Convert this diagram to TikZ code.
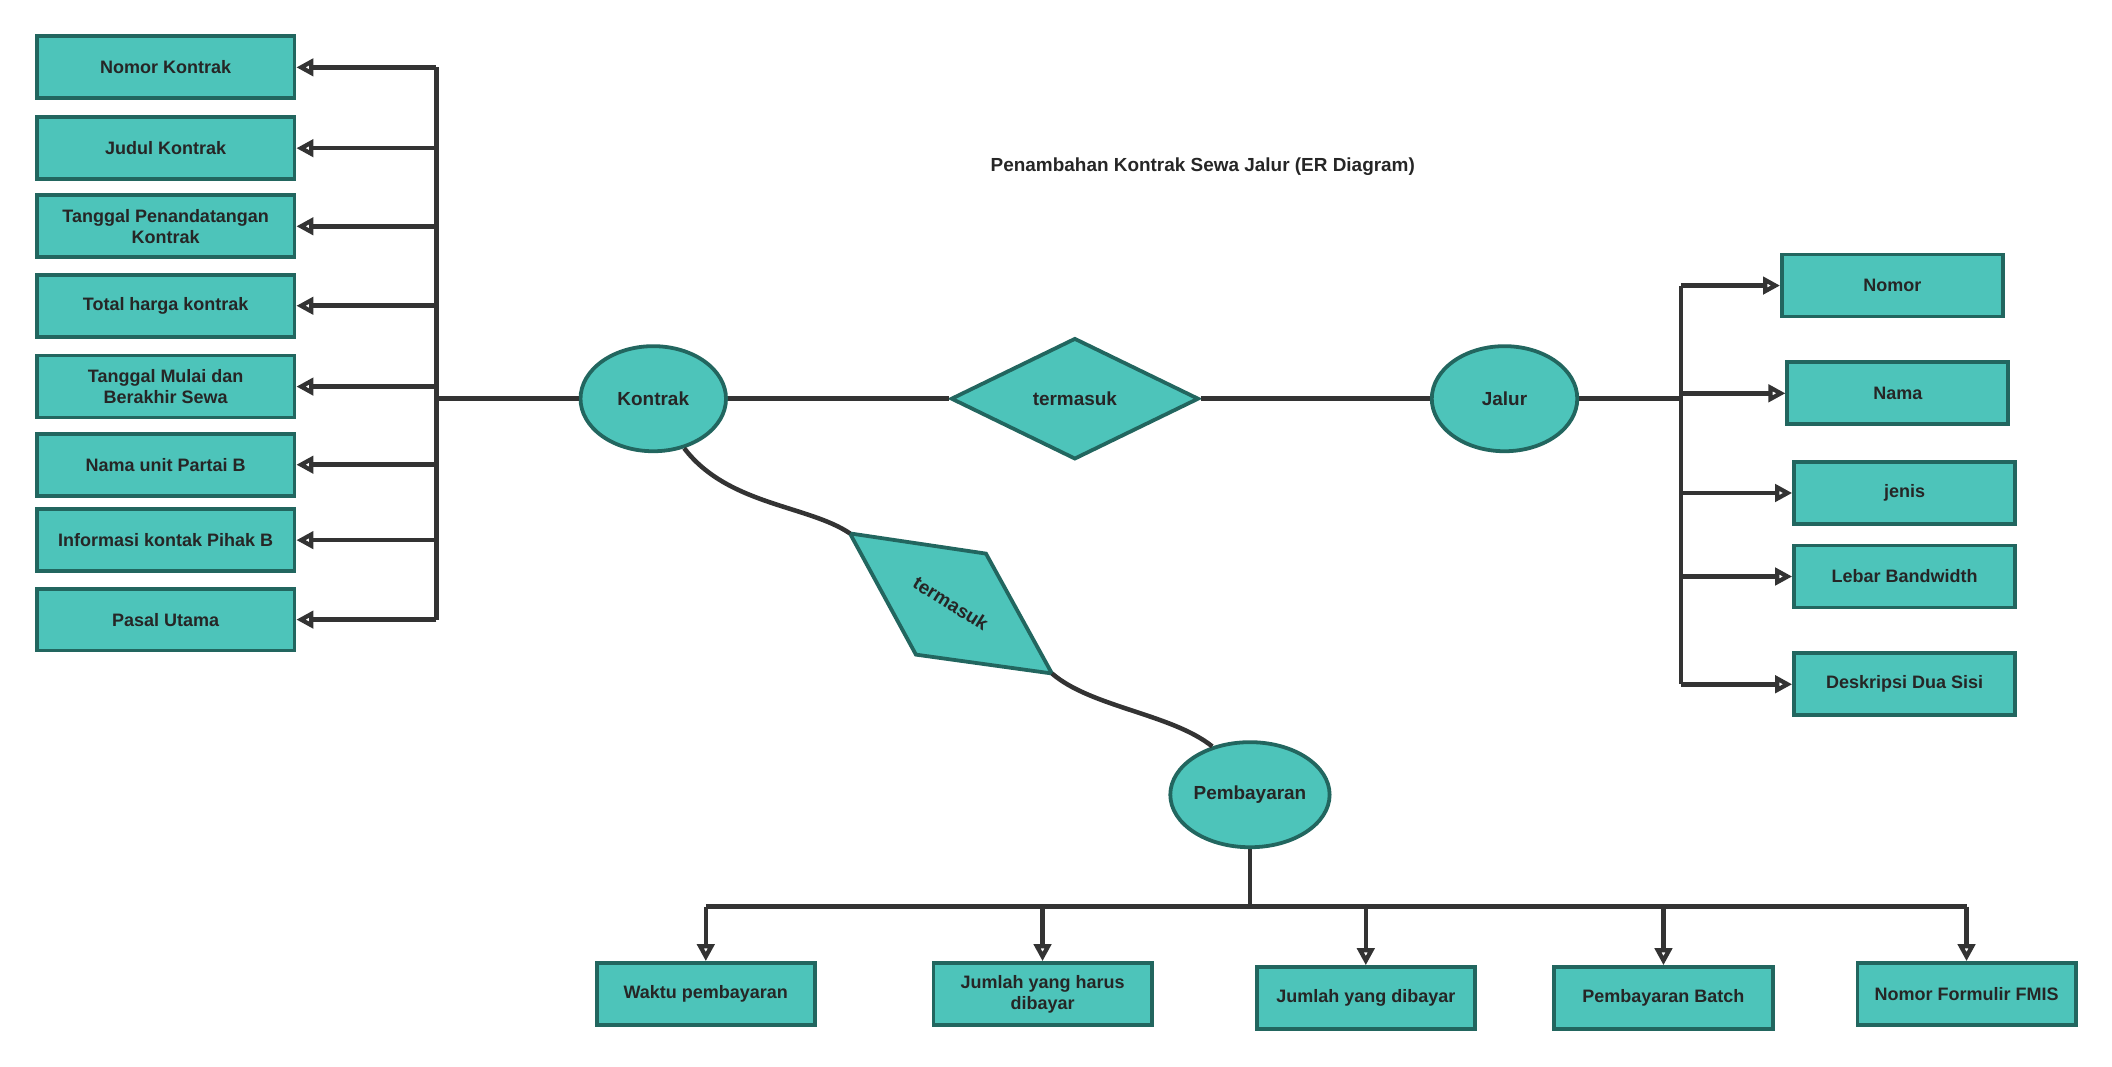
\documentclass[tikz,border=0pt]{standalone}
\usepackage{fontspec}
\setmainfont{Liberation Sans}
\usetikzlibrary{arrows.meta,shapes.geometric}
\definecolor{entityfill}{HTML}{4DC4BA}
\definecolor{entityline}{HTML}{22665F}
\definecolor{wire}{HTML}{333333}
\tikzset{>={Triangle[open,length=9pt,width=9pt]}}
\tikzset{
  attr/.style={draw=entityline, fill=entityfill, line width=2pt, minimum width=4.1cm, minimum height=1.15cm, align=center, font=\fontsize{9.5}{11}\selectfont\bfseries, text=black!85, inner sep=1pt},
  ent/.style={ellipse, draw=entityline, fill=entityfill, line width=2pt, minimum width=2.7cm, minimum height=1.95cm, inner sep=0pt, font=\fontsize{10}{12}\selectfont\bfseries, text=black!85},
  link/.style={draw=wire, line width=2.4pt},
}
\begin{document}
\begin{tikzpicture}[x=0.025cm, y=-0.025cm]
  \useasboundingbox (0,0) rectangle (1568,792);
  \node[font=\fontsize{10}{12}\selectfont\bfseries, text=black!85] (title) at (893,124) {Penambahan Kontrak Sewa Jalur (ER Diagram)};
  % entities
  \node[ent] (kontrak) at (485,296) {Kontrak};
  \node[ent] (jalur) at (1117,296) {Jalur};
  \node[ent] (bayar) at (928,590) {Pembayaran};
  \node[diamond, draw=entityline, fill=entityfill, line width=2pt, minimum width=4.6cm, minimum height=2.25cm, inner sep=0pt, font=\fontsize{10}{12}\selectfont\bfseries, text=black!85] (rel) at (798,296) {termasuk};
  \filldraw[draw=entityline, fill=entityfill, line width=2pt] (631,396) -- (732,411) -- (781,500) -- (680,486) -- cycle;
  \node[rotate=-32, font=\fontsize{10}{12}\selectfont\bfseries, text=black!85] (rel2) at (706,448) {termasuk};
  \coordinate (rel2in) at (631,396);
  \coordinate (rel2out) at (781,500);
  % left attributes
  \node[attr, minimum width=4.78cm] (a1) at (123,50) {Nomor Kontrak};
  \node[attr, minimum width=4.78cm] (a2) at (123,110) {Judul Kontrak};
  \node[attr, minimum width=4.78cm] (a3) at (123,168) {Tanggal Penandatangan\\Kontrak};
  \node[attr, minimum width=4.78cm] (a4) at (123,227) {Total harga kontrak};
  \node[attr, minimum width=4.78cm] (a5) at (123,287) {Tanggal Mulai dan\\Berakhir Sewa};
  \node[attr, minimum width=4.78cm] (a6) at (123,345) {Nama unit Partai B};
  \node[attr, minimum width=4.78cm] (a7) at (123,401) {Informasi kontak Pihak B};
  \node[attr, minimum width=4.78cm] (a8) at (123,460) {Pasal Utama};
  \coordinate (ltrunk) at (324,296);
  \draw[link] (ltrunk) -- (kontrak);
  \foreach \n in {a1,a2,a3,a4,a5,a6,a7,a8}
    \draw[link,->] (ltrunk |- \n) -- (\n.east);
  \draw[link] (ltrunk |- a1) -- (ltrunk |- a8);
  % right attributes
  \node[attr] (b1) at (1405,212) {Nomor};
  \node[attr] (b2) at (1409,292) {Nama};
  \node[attr] (b3) at (1414,366) {jenis};
  \node[attr] (b4) at (1414,428) {Lebar Bandwidth};
  \node[attr] (b5) at (1414,508) {Deskripsi Dua Sisi};
  \coordinate (rtrunk) at (1248,296);
  \draw[link] (jalur) -- (rtrunk);
  \foreach \n in {b1,b2,b3,b4,b5}
    \draw[link,->] (rtrunk |- \n) -- (\n.west);
  \draw[link] (rtrunk |- b1) -- (rtrunk |- b5);
  % payment attributes
  \node[attr, minimum width=4.05cm] (c1) at (524,738) {Waktu pembayaran};
  \node[attr, minimum width=4.05cm] (c2) at (774,738) {Jumlah yang harus\\dibayar};
  \node[attr, minimum width=4.05cm] (c3) at (1014,741) {Jumlah yang dibayar};
  \node[attr, minimum width=4.05cm] (c4) at (1235,741) {Pembayaran Batch};
  \node[attr, minimum width=4.05cm] (c5) at (1460,738) {Nomor Formulir FMIS};
  \coordinate (btrunk) at (928,673);
  \draw[link] (bayar) -- (btrunk);
  \foreach \n in {c1,c2,c3,c4,c5}
    \draw[link,->] (btrunk -| \n) -- (\n.north);
  \draw[link] (btrunk -| c1) -- (btrunk -| c5);
  % relations
  \draw[link] (kontrak.-58) .. controls (540,375) and (600,375) .. (rel2in);
  \draw[link] (rel2out) .. controls (810,525) and (870,530) .. (bayar.128);
  \draw[link] (kontrak) -- (rel);
  \draw[link] (rel) -- (jalur);
\end{tikzpicture}
\end{document}
